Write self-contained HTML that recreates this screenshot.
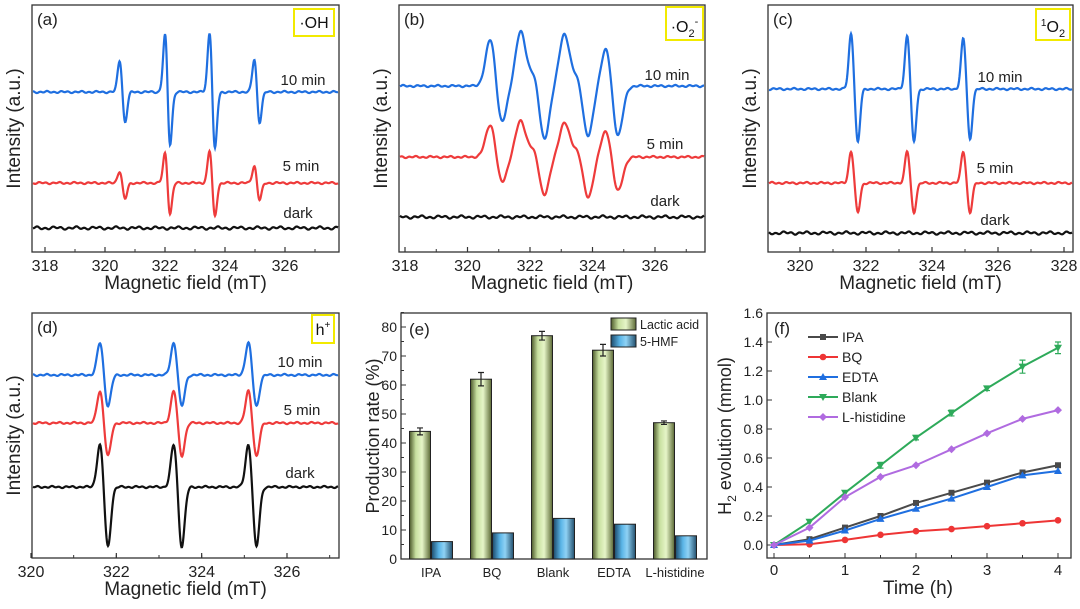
<!DOCTYPE html>
<html><head><meta charset="utf-8">
<style>
html,body{margin:0;padding:0;background:#fff;}
svg{display:block;font-family:"Liberation Sans",Arial,sans-serif;}
</style></head>
<body>
<svg id="fig" width="1080" height="609" viewBox="0 0 1080 609" xmlns="http://www.w3.org/2000/svg">
<defs>
<linearGradient id="gGreen" x1="0" x2="1" y1="0" y2="0">
<stop offset="0" stop-color="#4d5a2c"/><stop offset="0.3" stop-color="#c8e0a0"/><stop offset="0.6" stop-color="#e6f5c8"/><stop offset="1" stop-color="#5c6a36"/>
</linearGradient>
<linearGradient id="gBlue" x1="0" x2="1" y1="0" y2="0">
<stop offset="0" stop-color="#1d4a6a"/><stop offset="0.35" stop-color="#5ab4e6"/><stop offset="0.6" stop-color="#8fd2f5"/><stop offset="1" stop-color="#23506e"/>
</linearGradient>
</defs>
</svg>
<script>
// ---------- data ----------
const aBlue=[[320.5,34],[320.66,-33],[322.02,68],[322.15,-64],[323.5,66],[323.65,-64],[324.99,36],[325.14,-34]];
const aRed=[[320.5,13],[320.66,-17],[322.02,36],[322.15,-37],[323.5,36],[323.65,-37],[324.99,19],[325.14,-19]];
const aBase=[92,183,228];
const bBlue=[[320.75,50],[321.08,-40],[321.7,54],[322.15,16],[322.45,-55],[323.1,52],[323.55,12],[323.85,-52],[324.45,40],[324.8,-52]];
const bRed=[[320.75,35],[321.08,-28],[321.7,36],[322.15,10],[322.45,-39],[323.1,34],[323.55,10],[323.85,-42],[324.45,28],[324.8,-36]];
const bBase=[86,157,217];
const cBlue=[[321.55,56],[321.75,-54],[323.25,54],[323.45,-54],[324.95,51],[325.15,-51]];
const cRed=[[321.55,32],[321.75,-30],[323.25,32],[323.45,-30],[324.95,32],[325.15,-30]];
const cBase=[89,183,233];
const dBlue=[[321.62,33],[321.8,-32],[323.35,33],[323.53,-32],[325.1,33],[325.28,-32]];
const dRed=[[321.62,33],[321.8,-34],[323.35,33],[323.53,-34],[325.1,33],[325.28,-34]];
const dBlack=[[321.62,44],[321.8,-61],[323.35,44],[323.53,-61],[325.1,44],[325.28,-61]];
const dBase=[375,423,487];
const eCats=["IPA","BQ","Blank","EDTA","L-histidine"];
const eLactic=[44,62,77,72,47];
const eLacticErr=[1.2,2.3,1.5,2.0,0.6];
const eHMF=[6,9,14,12,8];
const eTicks=[0,10,20,30,40,50,60,70,80];
const fTime=[0,0.5,1,1.5,2,2.5,3,3.5,4];
const fIPA=[0,0.04,0.12,0.2,0.29,0.36,0.43,0.5,0.55];
const fBQ=[0,0.005,0.035,0.07,0.095,0.11,0.13,0.15,0.17];
const fEDTA=[0,0.03,0.1,0.18,0.25,0.32,0.4,0.48,0.51];
const fBlank=[0,0.16,0.36,0.55,0.74,0.91,1.08,1.23,1.36];
const fLhis=[0,0.12,0.33,0.47,0.55,0.66,0.77,0.87,0.93];
const fBlankErr=[0,0.01,0.01,0.02,0.015,0.02,0.015,0.045,0.04];
const fTicksY=[0,0.2,0.4,0.6,0.8,1.0,1.2,1.4,1.6];
const fTicksX=[0,1,2,3,4];

const NS="http://www.w3.org/2000/svg";
const svg=document.getElementById('fig');
function mk(tag,attrs,parent,text){const e=document.createElementNS(NS,tag);for(const k in attrs)e.setAttribute(k,attrs[k]);if(text!==undefined)e.textContent=text;(parent||svg).appendChild(e);return e;}

function panel(name,box){
  const g=mk('g',{});
  
  
  const r=mk('rect',{x:box[0],y:box[1],width:box[2]-box[0],height:box[3]-box[1],fill:'none',stroke:'#333','stroke-width':1.3},g);
  
  
  return g;
}

function epr(name,box,x0px,x1px,v0,v1,ticks,minor,series,bases,labelPos,tag,tagBox,letter,sigma){
  const g=panel(name,box);
  const sx=v=>x0px+(v-v0)*(x1px-x0px)/(v1-v0);
  const vmin=v0+(box[0]-x0px)/(x1px-x0px)*(v1-v0), vmax=v0+(box[2]-x0px)/(x1px-x0px)*(v1-v0);
  const colors=['#1f6fe0','#ee3b3b','#111'];
  series.forEach((lobes,i)=>{
    let d='';
    for(let px=box[0]+1;px<=box[2]-1;px+=0.5){
      const v=vmin+(px-box[0])/(box[2]-box[0])*(vmax-vmin);
      let y=bases[i];
      lobes.forEach(l=>{y-=l[1]*Math.exp(-Math.pow((v-l[0])/sigma,2)/2);});
      y+=Math.sin(px*0.9+i)*0.6+Math.sin(px*0.37+2*i)*0.5;
      d+=(d?'L':'M')+px.toFixed(1)+','+y.toFixed(2);
    }
    const p=mk('path',{d:d,fill:'none',stroke:colors[i],'stroke-width':2.2},g);
    
    
  });
  if(series.length===2){
    let d='';
    for(let px=box[0]+1;px<=box[2]-1;px+=1){const y=bases[2]+Math.sin(px*0.8)*0.9+Math.sin(px*0.31)*0.8;d+=(d?'L':'M')+px+','+y.toFixed(2);}
    const p=mk('path',{d:d,fill:'none',stroke:'#111','stroke-width':2.2},g);
    
    
  }
  ticks.forEach(t=>{
    const x=sx(t);
    mk('line',{x1:x,x2:x,y1:box[3],y2:box[3]-5,stroke:'#333','stroke-width':1.2},g);
    const tx=mk('text',{x:x,y:box[3]+19,'font-size':16,'text-anchor':'middle',fill:'#222'},g,String(t));
    
    
  });
  minor.forEach(t=>{const x=sx(t);mk('line',{x1:x,x2:x,y1:box[3],y2:box[3]-3,stroke:'#333','stroke-width':1},g);});
  const xt=mk('text',{x:(box[0]+box[2])/2,y:box[3]+37,'font-size':19,'text-anchor':'middle',fill:'#222'},g,'Magnetic field (mT)');
  
  
  const yc=(box[1]+box[3])/2;
  const yt=mk('text',{x:box[0]-12,y:yc,'font-size':19,'text-anchor':'middle',fill:'#222',transform:`rotate(-90 ${box[0]-12} ${yc})`},g,'Intensity (a.u.)');
  
  
  const lt=mk('text',{x:box[0]+5,y:box[1]+20,'font-size':17,fill:'#222'},g,letter);
  
  
  ['10 min','5 min','dark'].forEach((s,i)=>{
    const t=mk('text',{x:labelPos[i][0],y:labelPos[i][1],'font-size':15,fill:'#222','text-anchor':'middle'},g,s);
    
    
  });
  const tb=mk('rect',{x:tagBox[0],y:tagBox[1],width:tagBox[2]-tagBox[0],height:tagBox[3]-tagBox[1],fill:'#fff',stroke:'#f2ea00','stroke-width':2},g);
  
  
  const tt=mk('text',{x:(tagBox[0]+tagBox[2])/2,y:tagBox[3]-8,'font-size':16,'text-anchor':'middle',fill:'#111'},g);
  tt.innerHTML=tag;
  
  
}
const rng=(a,b,s)=>{const r=[];for(let v=a;v<=b+1e-9;v+=s)r.push(+v.toFixed(2));return r;};

epr('panel-a-oh',[32,5,339,252],45,285,318,326,[318,320,322,324,326],rng(319,327,2),[aBlue,aRed],aBase,
  [[303,85],[301,171],[298,218]],'·OH',[294,9,334,36],'(a)',0.075);
epr('panel-b-superoxide',[399,5,705,252],405,655,318,326,[318,320,322,324,326],rng(319,327,2),[bBlue,bRed],bBase,
  [[667,80],[665,149],[665,206]],'·O<tspan font-size="11" dy="5">2</tspan><tspan font-size="11" dy="-12">-</tspan>',[666,7,703,40],'(b)',0.16);
epr('panel-c-singlet-oxygen',[768,5,1073,252],800,1064,320,328,[320,322,324,326,328],rng(321,327,2),[cBlue,cRed],cBase,
  [[1000,82],[995,173],[995,225]],'<tspan font-size="10" dy="-6">1</tspan><tspan dy="6">O</tspan><tspan font-size="11" dy="5">2</tspan>',[1036,9,1070,40],'(c)',0.07);
epr('panel-d-holes',[32,313,339,558],31,287,320,326,[320,322,324,326],rng(321,327,1),[dBlue,dRed,dBlack],dBase,
  [[300,367],[302,415],[300,478]],'h<tspan font-size="10" dy="-7">+</tspan>',[312,315,334,343],'(d)',0.07);

(function(){
  const box=[401,313,707,559];
  const g=panel('panel-e-production-rate',box);
  const y=v=>559-v*(559-327)/80;
  const xc=i=>431+i*61;
  const bw=21;
  eTicks.forEach(t=>{
    mk('line',{x1:box[0],x2:box[0]+5,y1:y(t),y2:y(t),stroke:'#333'},g);
    mk('line',{x1:box[0],x2:box[0]+3,y1:y(t+5),y2:y(t+5),stroke:'#333'},g);
    const tx=mk('text',{x:box[0]-4,y:y(t)+5,'font-size':14,'text-anchor':'end',fill:'#222'},g,String(t));
    
    
  });
  eCats.forEach((c,i)=>{
    const b1=mk('rect',{x:xc(i)-bw-0.5,y:y(eLactic[i]),width:bw,height:y(0)-y(eLactic[i]),fill:'url(#gGreen)',stroke:'#222','stroke-width':1},g);
    
    
    const b2=mk('rect',{x:xc(i)+0.5,y:y(eHMF[i]),width:bw,height:y(0)-y(eHMF[i]),fill:'url(#gBlue)',stroke:'#222','stroke-width':1},g);
    
    
    const ex=xc(i)-bw/2-0.5,e=eLacticErr[i];
    mk('path',{d:`M${ex},${y(eLactic[i]+e)}V${y(eLactic[i]-e)}M${ex-3},${y(eLactic[i]+e)}h6M${ex-3},${y(eLactic[i]-e)}h6`,stroke:'#222','stroke-width':1.2,fill:'none'},g);
    const tx=mk('text',{x:xc(i),y:577,'font-size':13,'text-anchor':'middle',fill:'#222'},g,c);
    
    
  });
  const yt=mk('text',{x:379,y:436,'font-size':18,'text-anchor':'middle',fill:'#222',transform:'rotate(-90 379 436)'},g,'Production rate (%)');
  
  
  const lt=mk('text',{x:409,y:335,'font-size':17,fill:'#222'},g,'(e)');
  
  
  [['Lactic acid','url(#gGreen)',318],['5-HMF','url(#gBlue)',335]].forEach(l=>{
    const lg=mk('g',{},g);
    
    
    mk('rect',{x:611,y:l[2],width:25,height:12,fill:l[1],stroke:'#222'},lg);
    mk('text',{x:640,y:l[2]+11,'font-size':12.5,fill:'#222'},lg,l[0]);
  });
})();

(function(){
  const box=[767,313,1071,558];
  const g=panel('panel-f-h2-evolution',box);
  const x=v=>774+v*(1058-774)/4;
  const y=v=>545-v*(545-313)/1.6;
  fTicksY.forEach(t=>{
    mk('line',{x1:box[0],x2:box[0]+5,y1:y(t),y2:y(t),stroke:'#333'},g);
    const tx=mk('text',{x:box[0]-4,y:y(t)+5,'font-size':14,'text-anchor':'end',fill:'#222'},g,t.toFixed(1));
    
    
  });
  fTicksX.forEach(t=>{
    mk('line',{x1:x(t),x2:x(t),y1:box[3],y2:box[3]-5,stroke:'#333'},g);
    mk('line',{x1:x(t+0.5),x2:x(t+0.5),y1:box[3],y2:box[3]-3,stroke:'#333'},g);
    const tx=mk('text',{x:x(t),y:box[3]+17,'font-size':15,'text-anchor':'middle',fill:'#222'},g,String(t));
    
    
  });
  const ser=[['IPA',fIPA,'#4a4a4a','sq'],['BQ',fBQ,'#ee3535','ci'],['EDTA',fEDTA,'#1f6fe0','tu'],['Blank',fBlank,'#2eaa5a','td'],['L-histidine',fLhis,'#b06be0','di']];
  function marker(par,t,cx,cy,c){
    if(t==='sq')mk('rect',{x:cx-3,y:cy-3,width:6,height:6,fill:c},par);
    else if(t==='ci')mk('circle',{cx:cx,cy:cy,r:3.3,fill:c},par);
    else if(t==='tu')mk('path',{d:`M${cx},${cy-4}L${cx+4},${cy+3}L${cx-4},${cy+3}Z`,fill:c},par);
    else if(t==='td')mk('path',{d:`M${cx},${cy+4}L${cx+4},${cy-3}L${cx-4},${cy-3}Z`,fill:c},par);
    else mk('path',{d:`M${cx},${cy-4}L${cx+4},${cy}L${cx},${cy+4}L${cx-4},${cy}Z`,fill:c},par);
  }
  ser.forEach(s=>{
    const sg=mk('g',{},g);
    
    
    mk('path',{d:s[1].map((v,i)=>(i?'L':'M')+x(fTime[i])+','+y(v)).join(''),fill:'none',stroke:s[2],'stroke-width':2},sg);
    s[1].forEach((v,i)=>marker(sg,s[3],x(fTime[i]),y(v),s[2]));
  });
  fBlank.forEach((v,i)=>{const e=fBlankErr[i];if(e<0.012)return;const cx=x(fTime[i]);
    mk('path',{d:`M${cx},${y(v+e)}V${y(v-e)}M${cx-3},${y(v+e)}h6M${cx-3},${y(v-e)}h6`,stroke:'#2eaa5a','stroke-width':1.2,fill:'none'},g);});
  ser.forEach((s,i)=>{
    const ly=337+i*20;
    const lg=mk('g',{},g);
    
    
    mk('line',{x1:808,x2:838,y1:ly,y2:ly,stroke:s[2],'stroke-width':2},lg);
    marker(lg,s[3],823,ly,s[2]);
    mk('text',{x:842,y:ly+5,'font-size':14,fill:'#222'},lg,s[0]);
  });
  const xt=mk('text',{x:918,y:594,'font-size':19,'text-anchor':'middle',fill:'#222'},g,'Time (h)');
  
  
  const yt=mk('text',{x:731,y:436,'font-size':18,'text-anchor':'middle',fill:'#222',transform:'rotate(-90 731 436)'},g);
  yt.innerHTML='H<tspan font-size="12" dy="5">2</tspan><tspan dy="-5"> evolution (mmol)</tspan>';
  
  
  const lt=mk('text',{x:774,y:334,'font-size':17,fill:'#222'},g,'(f)');
  
  
})();
</script>
</body></html>
